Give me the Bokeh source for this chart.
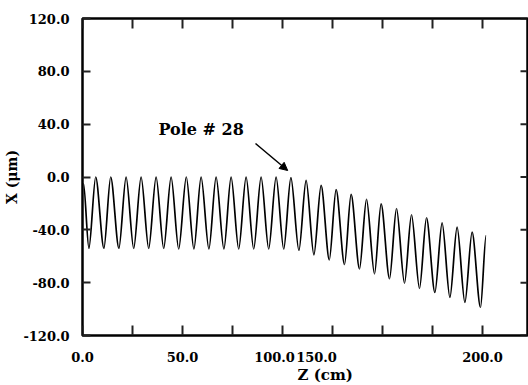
from bokeh.plotting import figure
from bokeh.models import FixedTicker, Range1d, Label, Arrow, NormalHead, PrintfTickFormatter, Title
from bokeh.embed import file_html
from bokeh.resources import INLINE

# Extrema of the measured trajectory (Z in cm, X in micrometres)
z_pts = [0.5, 3.2, 6.6, 10.7, 14.1, 18.2, 21.8, 25.6, 29.3, 33.1, 36.8, 40.6, 44.3,
         48.1, 51.9, 55.7, 59.3, 63.2, 66.8, 70.7, 74.3, 78.1, 81.8, 85.6, 89.3,
         93.1, 96.8, 100.6, 104.2, 108.2, 111.8, 115.7, 119.3, 123.4, 126.8, 131.0,
         134.3, 138.5, 142.0, 146.0, 149.3, 153.5, 157.0, 161.0, 164.5, 168.5, 172.0,
         176.2, 179.8, 183.7, 187.3, 191.2, 194.8, 199.0, 201.8]
x_pts = [-5, -54, 0, -54, 0, -54, 0, -54, 0, -54, 0, -54, 0,
         -54.5, 0, -54.5, 0, -54.5, 0, -54.5, 0, -54.5, 0, -54.5, 0,
         -54.5, 0, -54.5, -0.5, -55.6, -2.6, -58.9, -6.4, -62.7, -9.5, -66.2,
         -13.2, -69.5, -17.0, -73.3, -20.3, -77.0, -24.0, -80.3, -28.6, -84.3, -31.0,
         -87.4, -34.7, -91.2, -38.0, -95.0, -41.8, -98.8, -44.3]

x_mark_ticks = [0, 25, 50, 75, 100, 125, 150, 175, 200]
x_tick_labels = ["0.0", "50.0", "100.0", "150.0", "200.0"]
x_label_at = [0, 50, 96, 117, 200]
y_ticks = [-120, -80, -40, 0, 40, 80, 120]

FONT = "DejaVu Serif"
TICK = "#222222"
X0, X1 = 0.0, 222.5
Y0, Y1 = -120.0, 120.0

p = figure(width=528, height=385, output_backend="svg", toolbar_location=None,
           x_range=Range1d(X0, X1), y_range=Range1d(Y0, Y1),
           min_border_left=82, min_border_top=18, min_border_bottom=50,
           min_border_right=1)
p.grid.visible = False
p.outline_line_color = "black"
p.outline_line_width = 2.5

# bottom axis: tick labels (placed as printed in the original)
xb = p.xaxis[0]
xb.ticker = FixedTicker(ticks=x_label_at)
xb.major_label_overrides = {k: t for k, t in zip(x_label_at, x_tick_labels)}
xb.axis_line_color = None
xb.major_tick_line_color = None
xb.minor_tick_line_color = None
xb.major_tick_in = 0
xb.major_tick_out = 0
xb.major_label_standoff = 16
xb.major_label_text_font = FONT
xb.major_label_text_font_style = "bold"
xb.major_label_text_font_size = "13px"
xb.major_label_text_color = "black"

# left axis with inward ticks
yl = p.yaxis[0]
yl.ticker = FixedTicker(ticks=y_ticks)
yl.formatter = PrintfTickFormatter(format="%.1f")
yl.axis_line_color = None
yl.major_tick_in = 8
yl.major_tick_out = 0
yl.major_tick_line_color = TICK
yl.major_tick_line_width = 2
yl.minor_tick_line_color = None
yl.major_label_standoff = 13
yl.major_label_text_font = FONT
yl.major_label_text_font_style = "bold"
yl.major_label_text_font_size = "13px"
yl.major_label_text_color = "black"
yl.axis_label = "X (μm)"
yl.axis_label_standoff = 0
yl.axis_label_text_font = FONT
yl.axis_label_text_font_style = "bold"
yl.axis_label_text_font_size = "14px"
yl.axis_label_text_color = "black"

# x axis title, shifted right as in the original
p.add_layout(Title(text="Z (cm)", align="left", offset=215, standoff=0,
                   text_font=FONT, text_font_style="bold", text_font_size="15px",
                   text_color="black", vertical_align="middle"), "below")

# inward tick marks on bottom, top and right edges
xt = [float(t) for t in x_mark_ticks]
yt = [float(t) for t in y_ticks]
nb = len(xt)
ny = len(yt)
TX = 7.6   # 10 px of X
TZ = 3.5   # 7 px of Z
p.segment(x0=xt, y0=[Y0] * nb, x1=xt, y1=[Y0 + TX] * nb, line_color=TICK, line_width=2.0)
p.segment(x0=xt, y0=[Y1] * nb, x1=xt, y1=[Y1 - TX] * nb, line_color=TICK, line_width=2.0)
p.segment(x0=[X1] * ny, y0=yt, x1=[X1 - TZ] * ny, y1=yt, line_color=TICK, line_width=2.0)

# curve: smooth segments between successive extrema
k = 0.3
x0 = z_pts[:-1]
y0 = x_pts[:-1]
x1 = z_pts[1:]
y1 = x_pts[1:]
cx0 = [a + k * (b - a) for a, b in zip(x0, x1)]
cx1 = [b - k * (b - a) for a, b in zip(x0, x1)]
p.bezier(x0=x0, y0=y0, x1=x1, y1=y1, cx0=cx0, cy0=y0, cx1=cx1, cy1=y1,
         line_color="black", line_width=1.7)

# annotation
p.add_layout(Label(x=38, y=36, text="Pole # 28", text_font=FONT, text_font_style="bold",
                   text_font_size="16px", text_baseline="middle", text_align="left",
                   text_color="black"))
p.add_layout(Arrow(x_start=86.5, y_start=25.4, x_end=102.6, y_end=4.9,
                   line_color="black", line_width=1.5,
                   end=NormalHead(size=8, fill_color="black", line_color="black")))

open("out.html", "w").write(file_html(p, INLINE))
